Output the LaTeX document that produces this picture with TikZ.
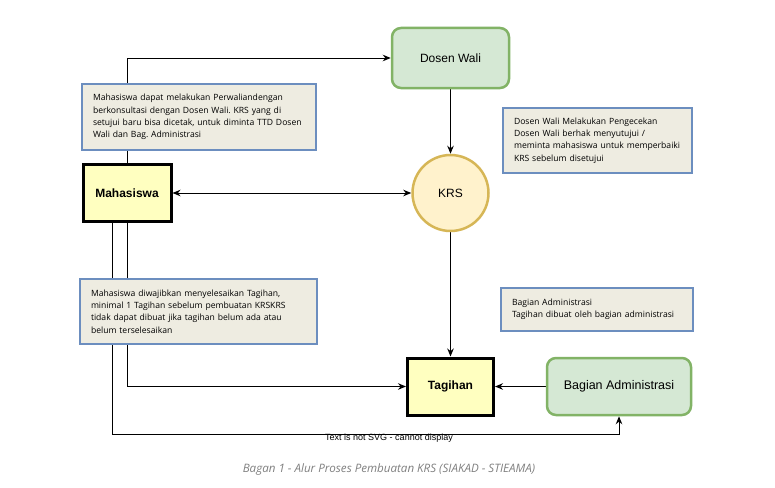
\documentclass[tikz,border=0pt]{standalone}
\usepackage{fontspec}
\setmainfont{Liberation Sans}
\newfontfamily\notefont{Open Sans}
\usepackage{tikz}
\usetikzlibrary{arrows.meta}
\definecolor{Catatan}{RGB}{238,236,225}
\definecolor{CatatanTepi}{RGB}{108,142,191}
\definecolor{Hijau}{RGB}{213,232,212}
\definecolor{HijauTepi}{RGB}{130,179,102}
\definecolor{Kuning}{RGB}{255,242,204}
\definecolor{KuningTepi}{RGB}{214,182,86}
\definecolor{Krem}{RGB}{255,255,192}
\pgfdeclarelayer{canvas}
\pgfdeclarelayer{background}
\pgfsetlayers{canvas,background,main}
\frenchspacing

\begin{document}
\begin{tikzpicture}[x=1pt,y=-1pt,
  aktor/.style={draw=black,line width=3pt,fill=Krem,font=\bfseries\fontsize{12}{14}\selectfont,inner sep=0pt},
  pihak/.style={draw=HijauTepi,line width=2.5pt,fill=Hijau,rounded corners=9pt,font=\fontsize{12}{14}\selectfont,inner sep=0pt},
  catatan/.style={draw=CatatanTepi,line width=1.5pt,fill=Catatan,align=left,inner xsep=11pt,inner ysep=0pt,font=\notefont\fontsize{8.6}{12.3}\selectfont},
  panah/.style={line width=1pt,-{Stealth[length=8pt,width=6.5pt]}}]
\begin{pgfonlayer}{canvas}
\useasboundingbox[fill=white] (0,0) rectangle (775,487);
\end{pgfonlayer}

%%main Layer
\node[pihak,minimum width=117pt,minimum height=60pt] (dosen) at (450.5,58) {Dosen Wali};
\node[aktor,minimum width=88pt,minimum height=57pt] (mhs) at (127,193) {Mahasiswa};
\node[circle,draw=KuningTepi,line width=2.5pt,fill=Kuning,minimum size=76pt,inner sep=0pt,font=\fontsize{12}{14}\selectfont] (krs) at (450.5,193) {KRS};
\node[aktor,minimum width=86pt,minimum height=57pt] (tagihan) at (450.5,386.5) {Tagihan};
\node[pihak,minimum width=144pt,minimum height=57pt,font=\fontsize{12.5}{14}\selectfont] (badm) at (619,386.5) {Bagian Administrasi};

%%notes
\node[catatan,text width=212pt,minimum height=66pt] (cat1) at (199,117) {Mahasiswa dapat melakukan Perwaliandengan\\berkonsultasi dengan Dosen Wali. KRS yang di\\setujui baru bisa dicetak, untuk diminta TTD Dosen\\Wali dan Bag. Administrasi};
\node[catatan,text width=167pt,minimum height=65pt] (cat2) at (597.5,140.5) {Dosen Wali Melakukan Pengecekan\\Dosen Wali berhak menyutujui /\\meminta mahasiswa untuk memperbaiki\\KRS sebelum disetujui};
\node[catatan,text width=170pt,minimum height=43pt] (cat3) at (597,309.5) {Bagian Administrasi\\Tagihan dibuat oleh bagian administrasi};
\node[catatan,text width=215pt,minimum height=65pt] (cat4) at (198.5,311.5) {Mahasiswa diwajibkan menyelesaikan Tagihan,\\minimal 1 Tagihan sebelum pembuatan KRSKRS\\tidak dapat dibuat jika tagihan belum ada atau\\belum terselesaikan};

\node[font=\fontsize{9}{10}\selectfont,inner sep=0pt] (lbl) at (389,438) {Text is not SVG - cannot display};
\node[font=\notefont\itshape\fontsize{11.6}{13}\selectfont,text=black!50] (judul) at (389,469) {Bagan 1 - Alur Proses Pembuatan KRS (SIAKAD - STIEAMA)};

%%background Layer
\begin{pgfonlayer}{background}
\draw[panah] (mhs.north) |- (dosen.west);
\draw[panah] (dosen.south) -- (krs.north);
\draw[panah,{Stealth[length=8pt,width=6.5pt]}-{Stealth[length=8pt,width=6.5pt]}] (mhs.east) -- (krs.west);
\draw[panah] (krs.south) -- (tagihan.north);
\draw[panah] (badm.west) -- (tagihan.east);
\draw[panah] (mhs.south) |- (tagihan.west);
\draw[panah] ([xshift=-15pt]mhs.south) |- ([yshift=-18pt]badm.south) -- (badm.south);
\end{pgfonlayer}

\end{tikzpicture}
\end{document}
